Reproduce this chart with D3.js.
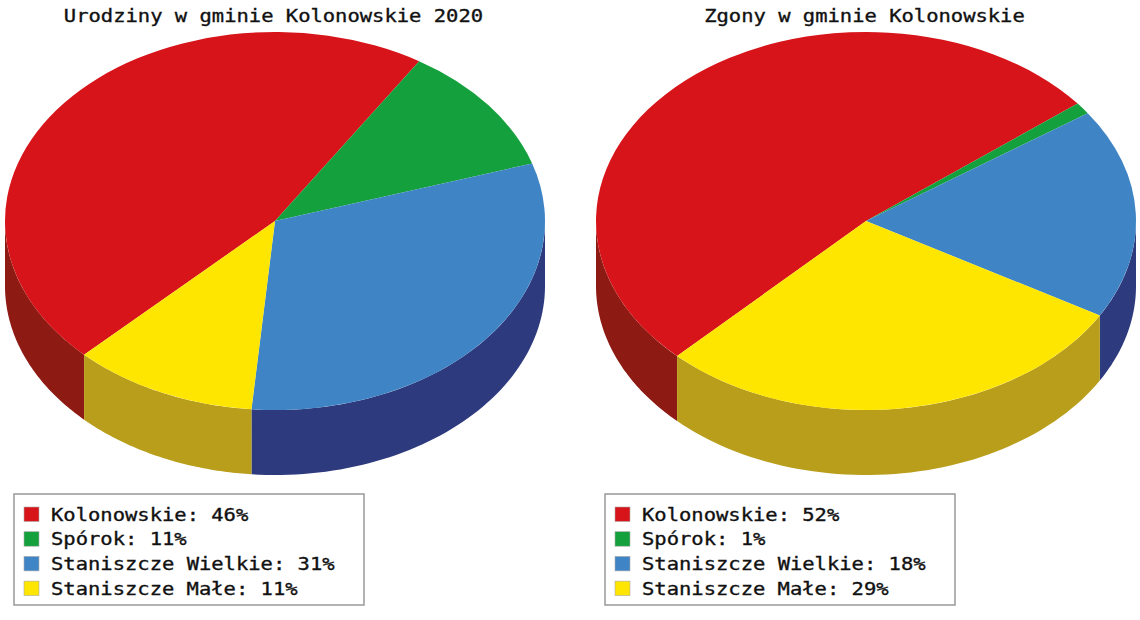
<!DOCTYPE html>
<html>
<head>
<meta charset="utf-8">
<script src="https://cdn.jsdelivr.net/npm/d3@7"></script>
<style>
  html, body { margin: 0; background: #fff; }
  text { font-family: "DejaVu Sans Mono", monospace; fill: #111; stroke: #111; stroke-width: 0.35px; }
</style>
</head>
<body>
<div id="chart"></div>
<script>
// values
const categories = ["Kolonowskie", "Spórok", "Staniszcze Wielkie", "Staniszcze Małe"];
const birthValues = [46, 11, 31, 11];
const deathValues = [52, 1, 18, 29];
const titles = ["Urodziny w gminie Kolonowskie 2020", "Zgony w gminie Kolonowskie"];

const topColors = ["#d7141a", "#14a03c", "#3f85c5", "#ffe600"];
const sideColors = ["#8e1a14", "#0c6e28", "#2e3a7e", "#b89e1a"];

const width = 1140, height = 620;
const radiusX = 270, radiusY = 189, depth = 65;
const charWidth = 12.33;

const svg = d3.select("#chart")
  .append("svg")
  .attr("width", width)
  .attr("height", height);

const rad = (deg) => deg * Math.PI / 180;

// draws one tilted pie with its title and legend
function drawPie(cx, title, values, startDeg, titleMid, legendX) {
  const cy = 221;
  const g = svg.append("g");

  const pie = d3.pie().sort(null)
    .startAngle(rad(startDeg))
    .endAngle(rad(startDeg + 360));
  const slices = pie(values);

  // front wall, only the part of each slice facing the viewer
  const line = d3.line();
  slices.forEach((s) => {
    let a0 = s.startAngle, a1 = s.endAngle;
    if (a0 >= 2 * Math.PI) { a0 -= 2 * Math.PI; a1 -= 2 * Math.PI; }
    const from = Math.max(a0, Math.PI / 2), to = Math.min(a1, 3 * Math.PI / 2);
    if (from >= to) return;
    const angles = d3.range(0, 61).map((i) => from + (to - from) * i / 60);
    const upper = angles.map((a) => [cx + radiusX * Math.sin(a), cy - radiusY * Math.cos(a)]);
    const lower = upper.map((p) => [p[0], p[1] + depth]).reverse();
    g.append("path")
      .attr("d", line(upper.concat(lower)) + "Z")
      .attr("fill", sideColors[s.index]);
  });

  // top face, a flat pie squashed vertically
  const arc = d3.arc().innerRadius(0).outerRadius(radiusX);
  g.append("g")
    .attr("transform", `translate(${cx},${cy}) scale(1,${radiusY / radiusX})`)
    .selectAll("path")
    .data(slices)
    .enter()
    .append("path")
    .attr("d", arc)
    .attr("fill", (d) => topColors[d.index]);

  // title
  g.append("text")
    .attr("x", titleMid)
    .attr("y", 21.5)
    .attr("text-anchor", "middle")
    .attr("font-size", "18px")
    .attr("textLength", title.length * charWidth)
    .attr("lengthAdjust", "spacingAndGlyphs")
    .text(title);

  // legend
  g.append("rect")
    .attr("x", legendX)
    .attr("y", 494)
    .attr("width", 350)
    .attr("height", 111)
    .attr("fill", "#fff")
    .attr("stroke", "#999")
    .attr("stroke-width", 1.5);

  const rows = g.selectAll(".row")
    .data(categories)
    .enter()
    .append("g")
    .attr("class", "row")
    .attr("transform", (d, i) => `translate(${legendX},${514 + i * 24.7})`);

  rows.append("rect")
    .attr("x", 10)
    .attr("y", -7)
    .attr("width", 15)
    .attr("height", 14.5)
    .attr("fill", (d, i) => topColors[i])
    .attr("stroke", "#aaa")
    .attr("stroke-width", 0.6);

  rows.append("text")
    .attr("x", 37)
    .attr("y", 6.5)
    .attr("font-size", "18px")
    .attr("textLength", (d, i) => `${d}: ${values[i]}%`.length * charWidth)
    .attr("lengthAdjust", "spacingAndGlyphs")
    .text((d, i) => `${d}: ${values[i]}%`);
}

drawPie(275, titles[0], birthValues, 225, 273.5, 14);
drawPie(866, titles[1], deathValues, 224.4, 864.5, 605);
</script>
</body>
</html>
